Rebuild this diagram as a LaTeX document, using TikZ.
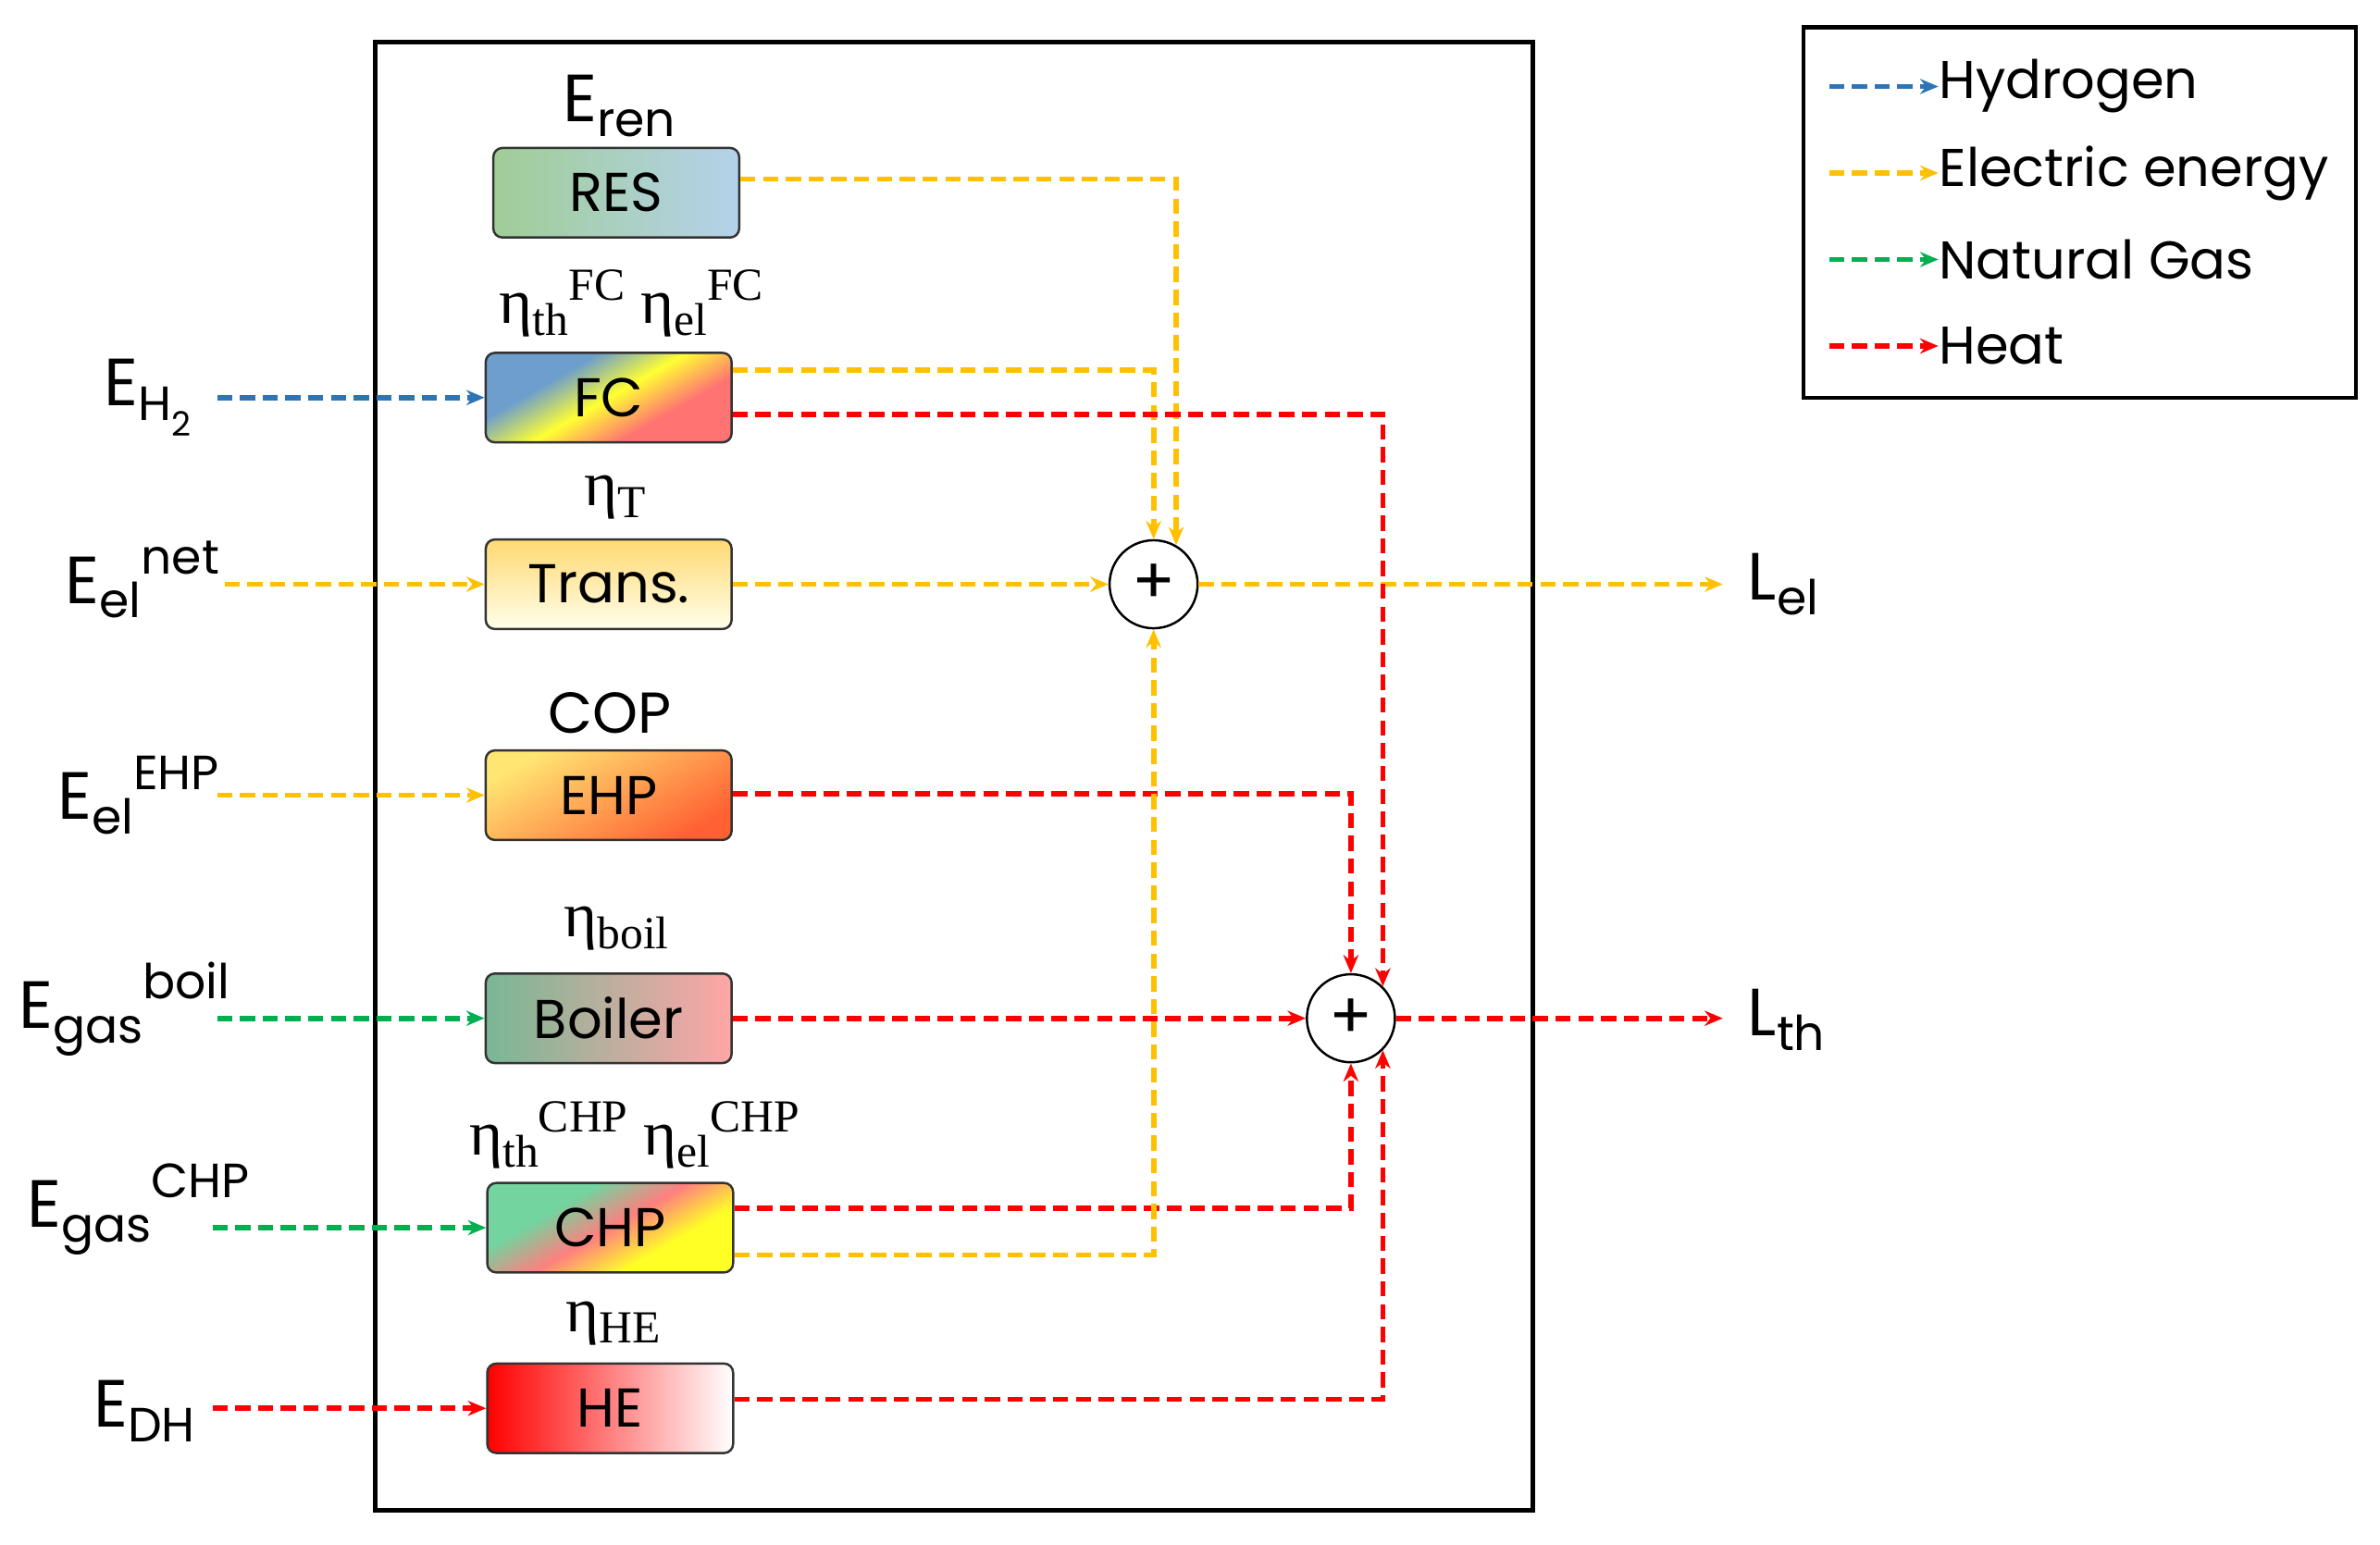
\documentclass[tikz,border=0pt]{standalone}
\usepackage{fontspec}
\setmainfont{Poppins}
\newfontfamily\serf{Liberation Serif}
\usetikzlibrary{arrows.meta}
\newcommand\mysub[1]{\raisebox{-.4ex}{\scalebox{0.72}{#1}}}
\newcommand\mysup[1]{\raisebox{.8ex}{\scalebox{0.72}{#1}}}
\definecolor{cB}{RGB}{46,117,182}
\definecolor{cY}{RGB}{255,192,0}
\definecolor{cG}{RGB}{0,176,80}
\definecolor{cR}{RGB}{255,0,0}
\definecolor{resL}{RGB}{160,205,150}
\definecolor{resR}{RGB}{180,210,235}
\pgfdeclareverticalshading{fcsh}{100bp}{color(0bp)=(red!55); color(35bp)=(red!55); color(50bp)=(yellow!80); color(65bp)=(cB!70); color(100bp)=(cB!70)}
\pgfdeclareverticalshading{chpsh}{100bp}{color(0bp)=(yellow!85); color(35bp)=(yellow!85); color(50bp)=(red!50); color(65bp)=(cG!55); color(100bp)=(cG!55)}
\begin{document}
\begin{tikzpicture}[x=1pt,y=-1pt,
  fl/.style={line width=3.5pt,dash pattern=on 10pt off 5pt,-{Stealth[length=12pt,width=10pt]}},
  box/.style={draw=black!80,line width=1.5pt,rounded corners=6pt,minimum width=162pt,minimum height=59pt,font=\fontsize{36}{36}\selectfont,inner sep=0pt},
  lab/.style={font=\fontsize{44}{44}\selectfont},
  eta/.style={font=\serf\fontsize{42}{42}\selectfont},
  sum/.style={circle,draw,line width=1.5pt,fill=white,minimum size=58pt,inner sep=0pt,font=\fontsize{42}{42}\selectfont},
  leg/.style={font=\fontsize{35}{35}\selectfont,anchor=west}]
\useasboundingbox (0,0) rectangle (1568,1018);
\draw[line width=3pt] (247,28) rectangle (1010,995);
% legend
\draw[line width=2.5pt] (1188,18) rectangle (1552,262);
\coordinate (l1a) at (1205,57); \coordinate (l1b) at (1277,57);
\coordinate (l2a) at (1205,114); \coordinate (l2b) at (1277,114);
\coordinate (l3a) at (1205,171); \coordinate (l3b) at (1277,171);
\coordinate (l4a) at (1205,228); \coordinate (l4b) at (1277,228);
\draw[fl,cB] (l1a)--(l1b); \node[leg] (t1) at (1274,57) {Hydrogen};
\draw[fl,cY] (l2a)--(l2b); \node[leg] (t2) at (1274,114) {Electric energy};
\draw[fl,cG] (l3a)--(l3b); \node[leg] (t3) at (1274,171) {Natural Gas};
\draw[fl,cR] (l4a)--(l4b); \node[leg] (t4) at (1274,228) {Heat};
% boxes
\node[box,left color=resL,right color=resR] (res) at (406,127) {RES};
\node[box,shading=fcsh,shading angle=30] (fc) at (401,262) {FC};
\node[box,top color=yellow!45!orange!55,bottom color=yellow!8] (tr) at (401,385) {Trans.};
\node[box,top color=yellow!65!orange!55,bottom color=red!55!orange!80,shading angle=30] (ehp) at (401,524) {EHP};
\node[box,left color=cG!50!gray!70,right color=red!35] (boil) at (401,671) {Boiler};
\node[box,shading=chpsh,shading angle=30] (chp) at (402,809) {CHP};
\node[box,left color=red,right color=white] (he) at (402,928) {HE};
% labels above
\node[lab] (Lren) at (408,70) {E\mysub{ren}};
\node[eta] (Lfc) at (416,200) {η\mysub{th}\mysup{FC} η\mysub{el}\mysup{FC}};
\node[eta] (Lt) at (405,328) {η\mysub{T}};
\node[font=\fontsize{38}{38}\selectfont] (Lcop) at (402,470) {COP};
\node[eta] (Lb) at (406,612) {η\mysub{boil}};
\node[eta] (Lc) at (418,748) {η\mysub{th}\mysup{CHP} η\mysub{el}\mysup{CHP}};
\node[eta] (Lh) at (404,872) {η\mysub{HE}};
% sums
\node[sum] (s1) at (760,385) {+};
\node[sum] (s2) at (890,671) {+};
% inputs
\node[lab,anchor=east] (ih) at (130,262) {E\mysub{H\textsubscript{2}}};
\node[lab,anchor=east] (in) at (148,382) {E\mysub{el}\mysup{net}};
\node[lab,anchor=east] (ie) at (148,524) {E\mysub{el}\mysup{EHP}};
\node[lab,anchor=east] (ib) at (155,665) {E\mysub{gas}\mysup{boil}};
\node[lab,anchor=east] (ic) at (168,797) {E\mysub{gas}\mysup{CHP}};
\node[lab,anchor=east] (id) at (132,930) {E\mysub{DH}};
\draw[fl,cB] (143,262) -- (fc.west);
\draw[fl,cY] (148,385) -- (tr.west);
\draw[fl,cY] (143,524) -- (ehp.west);
\draw[fl,cG] (143,671) -- (boil.west);
\draw[fl,cG] (140,809) -- (chp.west);
\draw[fl,cR] (140,928) -- (he.west);
% outputs
\node[lab,anchor=west] (oel) at (1148,385) {L\mysub{el}};
\node[lab,anchor=west] (oth) at (1148,672) {L\mysub{th}};
\draw[fl,cY] (s1.east) -- (1135,385);
\draw[fl,cR] (s2.east) -- (1135,671);
% internal
\draw[fl,cY] (res.east |- 0,118) -| (s1.60);
\draw[fl,cY] (fc.east |- 0,244) -| (s1.north);
\draw[fl,cR] (fc.east |- 0,273) -| (s2.45);
\draw[fl,cY] (tr.east) -- (s1.west);
\draw[fl,cR] (ehp.east |- 0,523) -| (s2.north);
\draw[fl,cR] (boil.east) -- (s2.west);
\draw[fl,cR] (chp.east |- 0,796) -| (s2.south);
\draw[fl,cY] (chp.east |- 0,827) -| (s1.south);
\draw[fl,cR] (he.east |- 0,922) -| (s2.-45);
\end{tikzpicture}
\end{document}
